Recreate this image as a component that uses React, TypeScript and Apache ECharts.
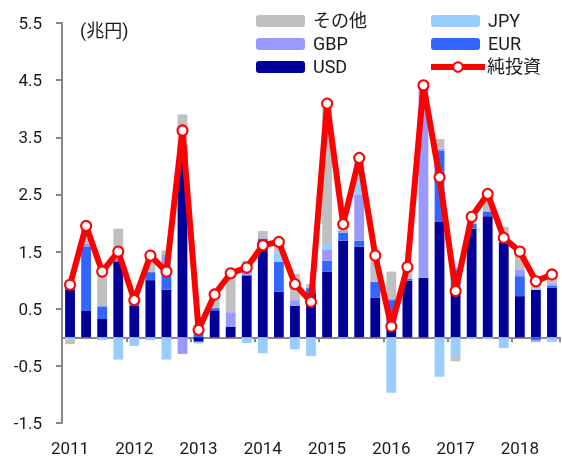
import React, { useEffect, useRef } from "react";
import * as echarts from "echarts";

const quarters = [
  "2011Q1","2011Q2","2011Q3","2011Q4",
  "2012Q1","2012Q2","2012Q3","2012Q4",
  "2013Q1","2013Q2","2013Q3","2013Q4",
  "2014Q1","2014Q2","2014Q3","2014Q4",
  "2015Q1","2015Q2","2015Q3","2015Q4",
  "2016Q1","2016Q2","2016Q3","2016Q4",
  "2017Q1","2017Q2","2017Q3","2017Q4",
  "2018Q1","2018Q2","2018Q3",
];

const usd = [0.83,0.46,0.32,1.32,0.55,1.0,0.83,3.25,-0.08,0.46,0.18,1.08,1.7,0.8,0.55,0.77,1.15,1.69,1.59,0.69,0.18,0.99,1.04,2.02,0.82,1.9,2.12,1.65,0.72,0.83,0.87];
const eur = [0.14,1.13,0.22,0.03,0.02,0.14,0.25,0.1,0.15,0.05,0,0.02,0.03,0.52,0,0.09,0.19,0.14,0.1,0.28,0.47,0.03,0,1.25,0.36,0.09,0.08,0.05,0.35,-0.05,0.03];
const gbp = [0.02,0.05,0.02,0,0.05,0,0.36,-0.29,0,0,0.26,0.1,0,0,0.1,0,0.2,0.03,0.8,0,0.03,0,3.33,0.03,0.04,0,0.02,0.05,0.11,-0.03,0.03];
const jpy = [-0.04,0,-0.05,-0.39,-0.15,-0.05,-0.39,0,-0.03,0,0.02,-0.1,-0.28,0.18,-0.21,-0.33,0.11,-0.02,0.6,0,-0.97,0,0,-0.69,-0.33,-0.03,-0.03,-0.19,0,0.02,-0.08];
const other = [-0.08,0.28,0.61,0.55,0.18,0.35,0.08,0.55,0.08,0.22,0.63,0.14,0.13,0.17,0.46,0.07,2.42,0.1,0.05,0.44,0.47,0.2,0.05,0.17,-0.09,0.15,0.32,0.18,0.3,0.2,0.25];
const net = [0.92,1.95,1.15,1.5,0.65,1.43,1.15,3.62,0.13,0.75,1.12,1.22,1.61,1.67,0.93,0.62,4.09,1.98,3.14,1.43,0.19,1.23,4.41,2.8,0.81,2.11,2.51,1.74,1.5,0.98,1.1];

const FONT = "Roboto, 'Noto Sans CJK JP', sans-serif";
const TXT = "#1a1a1a";
const AXIS = "#888888";

export default function App() {
  const ref = useRef<HTMLDivElement>(null);
  useEffect(() => {
    if (!ref.current) return;
    const chart = echarts.init(ref.current, null, { renderer: "svg" });
    const bar = (name: string, data: number[], color: string) => ({
      name,
      type: "bar",
      stack: "total",
      data,
      barWidth: "61%",
      itemStyle: { color },
    });
    const legendBase = {
      orient: "horizontal",
      itemWidth: 49,
      itemHeight: 12,
      itemGap: 0,
      padding: 0,
      textStyle: { fontFamily: FONT, fontSize: 18, color: TXT, padding: [0, 0, 0, 3] },
      selectedMode: false,
    };
    const legendPos: [string, number, number][] = [
      ["その他", 256, 12],
      ["GBP", 256, 35],
      ["USD", 256, 58],
      ["JPY", 431, 12],
      ["EUR", 431, 35],
      ["純投資", 428, 58],
    ];
    chart.setOption({
      animation: false,
      textStyle: { fontFamily: FONT },
      grid: { left: 62, right: 2, top: 23, bottom: 34, containLabel: false, outerBoundsMode: "none" },
      legend: legendPos.map(([n, l, t]) =>
        n === "純投資"
          ? {
              ...legendBase,
              data: [n],
              left: l,
              top: t,
              itemWidth: 54,
              textStyle: { ...legendBase.textStyle, padding: [0, 0, 0, -3] },
              lineStyle: { width: 6, color: "#FF0000" },
              itemStyle: { color: "#FFFFFF", borderColor: "#FF0000", borderWidth: 2 },
            }
          : { ...legendBase, data: [n], left: l, top: t }
      ),
      graphic: [
        {
          type: "text",
          left: 80,
          top: 21,
          style: { text: "(兆円)", fontFamily: FONT, fontSize: 18, fill: TXT },
        },
      ],
      xAxis: {
        type: "category",
        data: quarters,
        axisLine: { onZero: true, lineStyle: { color: AXIS, width: 2 } },
        axisTick: { show: true, interval: 3, alignWithLabel: false, length: 5, lineStyle: { color: AXIS, width: 2 } },
        axisLabel: {
          interval: 3,
          margin: 16,
          fontSize: 17,
          lineHeight: 17,
          color: TXT,
          fontFamily: FONT,
          formatter: (v: string) => v.slice(0, 4),
        },
        splitLine: { show: false },
      },
      yAxis: {
        type: "value",
        min: -1.5,
        max: 5.5,
        interval: 1,
        axisLine: { show: true, lineStyle: { color: AXIS, width: 2 } },
        axisTick: { show: true, length: 6, lineStyle: { color: AXIS, width: 2 } },
        axisLabel: {
          fontSize: 17,
          color: TXT,
          fontFamily: FONT,
          margin: 20,
          formatter: (v: number) => v.toFixed(1),
        },
        splitLine: { show: false },
      },
      series: [
        bar("USD", usd, "#000099"),
        bar("EUR", eur, "#3366FF"),
        bar("GBP", gbp, "#9999FF"),
        bar("JPY", jpy, "#99CCFF"),
        bar("その他", other, "#C0C0C0"),
        {
          name: "純投資",
          type: "line",
          data: net,
          z: 10,
          symbol: "circle",
          symbolSize: 10,
          showAllSymbol: true,
          lineStyle: { color: "#FF0000", width: 6 },
          itemStyle: { color: "#FFFFFF", borderColor: "#FF0000", borderWidth: 2 },
        },
      ],
    });
    return () => chart.dispose();
  }, []);
  return (
    <div
      ref={ref}
      style={{ position: "fixed", left: 0, top: 0, width: 562, height: 457 }}
    />
  );
}
